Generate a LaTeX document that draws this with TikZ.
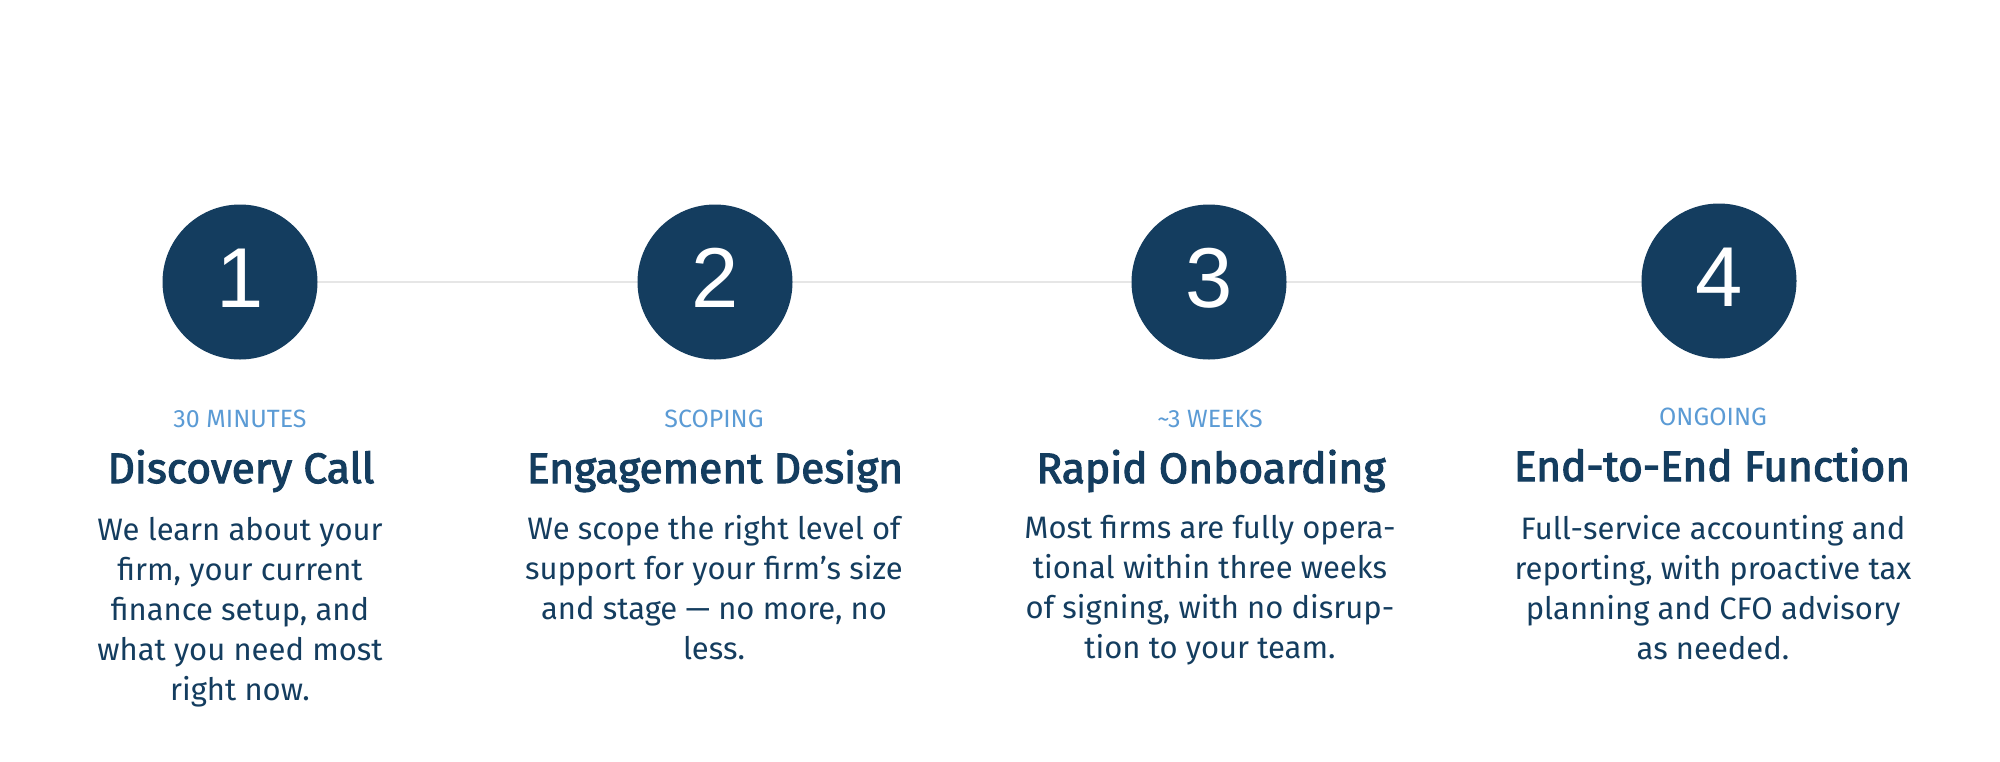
\documentclass[tikz,border=0pt]{standalone}
\usepackage{fontspec}
\setmainfont{Fira Sans}
\newfontfamily\numfont{Liberation Sans}
\newfontfamily\titlefont{Fira Sans}[FakeBold=2.6]
\definecolor{navy}{HTML}{143D5F}
\definecolor{lblue}{HTML}{5B9BD5}
\definecolor{linegray}{HTML}{E6E6E6}
\tikzset{
  stepcircle/.style={circle, fill=navy, text=white, minimum size=155pt, inner sep=0pt,
    font=\numfont\fontsize{85}{85}\selectfont, text depth=8pt},
  lbl/.style={anchor=base, text=lblue, inner sep=0pt, font=\fontsize{25}{30}\selectfont},
  ttl/.style={anchor=base, text=navy, inner sep=0pt, font=\titlefont\fontsize{42.5}{48}\selectfont},
  body/.style={anchor=north, text=navy, inner sep=0pt, align=center, font=\fontsize{31}{40}\selectfont},
  conn/.style={draw=linegray, line width=2pt}
}
\begin{document}
\begin{tikzpicture}[x=1pt,y=-1pt]
\useasboundingbox[fill=white] (0,0) rectangle (2000,761);
\draw[conn] (240,282) coordinate (k1) -- (715,282) coordinate (k2) -- (1209,282) coordinate (k3) -- (1719,282) coordinate (k4);
\node[stepcircle] (c1) at (k1) {1};
\node[stepcircle] (c2) at (k2) {2};
\node[stepcircle] (c3) at (k3) {3};
\node[stepcircle] (c4) at (1719,281) {4};

\node[lbl] (l1) at (240,427) {30 MINUTES};
\node[lbl] (l2) at (714,427) {SCOPING};
\node[lbl] (l3) at (1210,427) {\textasciitilde 3 WEEKS};
\node[lbl] (l4) at (1713,425) {ONGOING};

\node[ttl] (t1) at (241,483) {Discovery Call};
\node[ttl] (t2) at (715,483) {Engagement Design};
\node[ttl] (t3) at (1211,483) {Rapid Onboarding};
\node[ttl] (t4) at (1712,481) {End-to-End Function};

\node[body] (b1) at (240,512) {\strut We learn about your\\firm, your current\\finance setup, and\\what you need most\\right now.};
\node[body] (b2) at (714,511) {\strut We scope the right level of\\support for your firm’s size\\and stage — no more, no\\less.};
\node[body] (b3) at (1210,510) {\strut Most firms are fully opera-\\tional within three weeks\\of signing, with no disrup-\\tion to your team.};
\node[body] (b4) at (1713,511) {\strut Full-service accounting and\\reporting, with proactive tax\\planning and CFO advisory\\as needed.};
\end{tikzpicture}
\end{document}
